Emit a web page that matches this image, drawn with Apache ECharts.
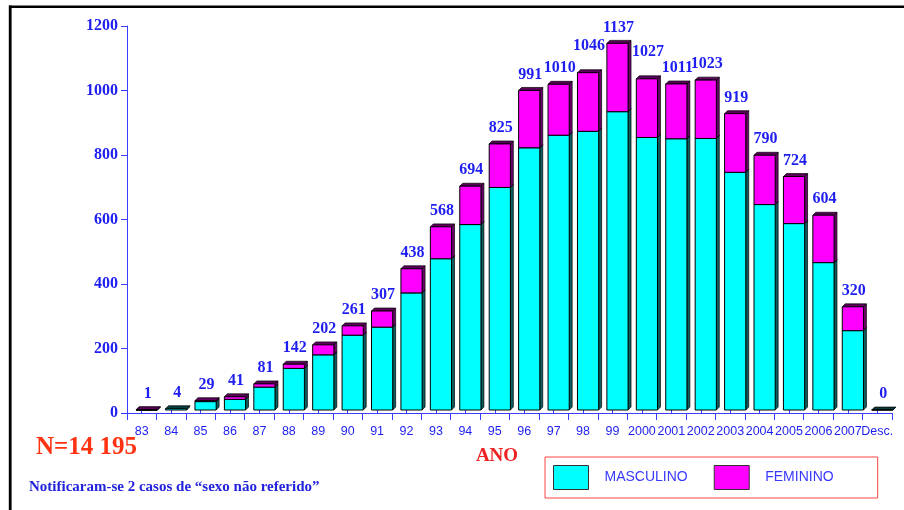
<!DOCTYPE html>
<html>
<head>
<meta charset="utf-8">
<script src="https://cdn.jsdelivr.net/npm/echarts@6/dist/echarts.min.js"></script>
<style>html,body{margin:0;padding:0;background:#fff}#c{width:904px;height:510px}</style>
</head>
<body>
<div id="c"></div>
<script>
const categories = ['83','84','85','86','87','88','89','90','91','92','93','94','95','96','97','98','99','2000','2001','2002','2003','2004','2005','2006','2007','Desc.'];
const masculino = [0,4,26,33,71,129,171,232,257,363,469,575,690,813,852,864,925,845,841,842,737,637,578,457,246,0];
const feminino  = [1,0,3,8,10,13,31,29,50,75,99,119,135,178,158,182,212,182,170,181,182,153,146,147,74,0];
const totals    = [1,4,29,41,81,142,202,261,307,438,568,694,825,991,1010,1046,1137,1027,1011,1023,919,790,724,604,320,0];
const yTicks = { min: 0, max: 1200, interval: 200 };

// layout config (not data): value labels lifted higher to avoid crowding neighbours
const liftedLabels = ['98', '2000'];

const BLUE = '#1e1ef2';
const chart = echarts.init(document.getElementById('c'), null, { renderer: 'canvas' });

function makeRender(front, side, topc, withLabel) {
  return function (params, api) {
    const i = api.value(0), s = api.value(1), e = api.value(2);
    const p0 = api.coord([i, s]);
    const p1 = api.coord([i, e]);
    const w = api.size([1, 0])[0];
    const cx = p0[0];
    const L = cx - 0.19 * w, R = cx + 0.53 * w, d = 0.1 * w, raise = 3;
    const yb = p0[1] - raise, yt = p1[1] - raise;
    const children = [];
    const draw = !withLabel || e > s;
    if (draw) {
      children.push({ type: 'polygon', shape: { points: [[R, yb], [R + d, yb - d], [R + d, yt - d], [R, yt]] },
        style: { fill: side, stroke: '#000', lineWidth: 0.7 } });
      children.push({ type: 'polygon', shape: { points: [[L, yt], [L + d, yt - d], [R + d, yt - d], [R, yt]] },
        style: { fill: topc, stroke: '#000', lineWidth: 0.7 } });
      children.push({ type: 'rect', shape: { x: L, y: yt, width: R - L, height: yb - yt },
        style: { fill: front, stroke: '#000', lineWidth: 1 } });
    }
    if (withLabel) {
      const lift = liftedLabels.indexOf(categories[i]) >= 0 ? 11 : 0;
      children.push({ type: 'text', style: { text: String(api.value(3)), x: (L + R) / 2 + 1, y: yt - d - 13 - lift,
        fill: BLUE, font: 'bold 16px "Liberation Serif", "Times New Roman", serif', align: 'center', verticalAlign: 'middle' } });
    }
    return { type: 'group', children: children };
  };
}

const mData = categories.map((c, i) => [i, 0, masculino[i]]);
const fData = categories.map((c, i) => [i, masculino[i], masculino[i] + feminino[i], totals[i]]);

const option = {
  animation: false,
  backgroundColor: '#fff',
  grid: { left: 127, right: 12, top: 26, bottom: 97, containLabel: false },
  legend: {
    left: 545, top: 457,
    padding: [8, 44, 8, 8],
    borderColor: '#ff4444', borderWidth: 1,
    itemWidth: 35, itemHeight: 24, itemGap: 26,
    icon: 'rect',
    itemStyle: { borderColor: '#333', borderWidth: 1 },
    textStyle: { color: '#3838ff', fontSize: 14, fontFamily: '"Liberation Sans", Arial, sans-serif', padding: [0, 0, 0, 11] },
    data: ['MASCULINO', 'FEMININO']
  },
  xAxis: [{
    type: 'category', data: categories, boundaryGap: true,
    name: 'ANO', nameLocation: 'middle', nameGap: 34,
    nameTextStyle: { color: '#ee2222', fontSize: 19, fontWeight: 'bold', fontFamily: '"Liberation Serif", "Times New Roman", serif', padding: [0, 25, 0, 0] },
    axisLine: { lineStyle: { color: '#3c3cff', width: 1 } },
    axisTick: { show: true, length: 7, interval: 0, lineStyle: { color: '#3c3cff' } },
    axisLabel: { interval: 0, margin: 12, color: BLUE, fontSize: 12.5, fontFamily: '"Liberation Sans", Arial, sans-serif', hideOverlap: false },
    splitLine: { show: false }
  }, {
    type: 'category', data: categories, boundaryGap: true, position: 'bottom', gridIndex: 0,
    axisLine: { show: false },
    axisTick: { show: true, inside: true, length: 4, alignWithLabel: true, interval: 0, lineStyle: { color: '#3c3cff' } },
    axisLabel: { show: false }, splitLine: { show: false }
  }],
  yAxis: {
    type: 'value', min: yTicks.min, max: yTicks.max, interval: yTicks.interval,
    axisLine: { show: true, lineStyle: { color: '#3c3cff', width: 1 } },
    axisTick: { show: true, length: 6, lineStyle: { color: '#3c3cff' } },
    axisLabel: { margin: 9, color: BLUE, fontSize: 16, fontWeight: 'bold', fontFamily: '"Liberation Serif", "Times New Roman", serif',
      formatter: function (v) { return String(v); } },
    splitLine: { show: false }
  },
  series: [
    { name: 'MASCULINO', type: 'custom', xAxisIndex: 0, itemStyle: { color: '#00ffff' },
      encode: { x: 0, y: [1, 2] }, data: mData, renderItem: makeRender('#00ffff', '#0d5e5e', '#0a3c3c', false), z: 2 },
    { name: 'FEMININO', type: 'custom', xAxisIndex: 0, itemStyle: { color: '#ff00ff' },
      encode: { x: 0, y: [1, 2] }, data: fData, renderItem: makeRender('#ff00ff', '#6b006b', '#5c005c', true), z: 3 }
  ],
  graphic: [
    { type: 'line', shape: { x1: 9, y1: 6.8, x2: 904, y2: 6.8 }, style: { stroke: '#000', lineWidth: 2.5 }, z: 10 },
    { type: 'line', shape: { x1: 10.2, y1: 5.6, x2: 10.2, y2: 510 }, style: { stroke: '#000', lineWidth: 2.8 }, z: 10 },
    { type: 'text', x: 36, y: 448, style: { text: 'N=14 195', fill: '#ff3311', font: 'bold 25px "Liberation Serif", "Times New Roman", serif', align: 'left', verticalAlign: 'middle' } },
    { type: 'text', x: 29, y: 487, style: { text: 'Notificaram-se 2 casos de “sexo não referido”', fill: '#2222dd', font: 'bold 15px "Liberation Serif", "Times New Roman", serif', align: 'left', verticalAlign: 'middle' } }
  ]
};
chart.setOption(option);
</script>
</body>
</html>
